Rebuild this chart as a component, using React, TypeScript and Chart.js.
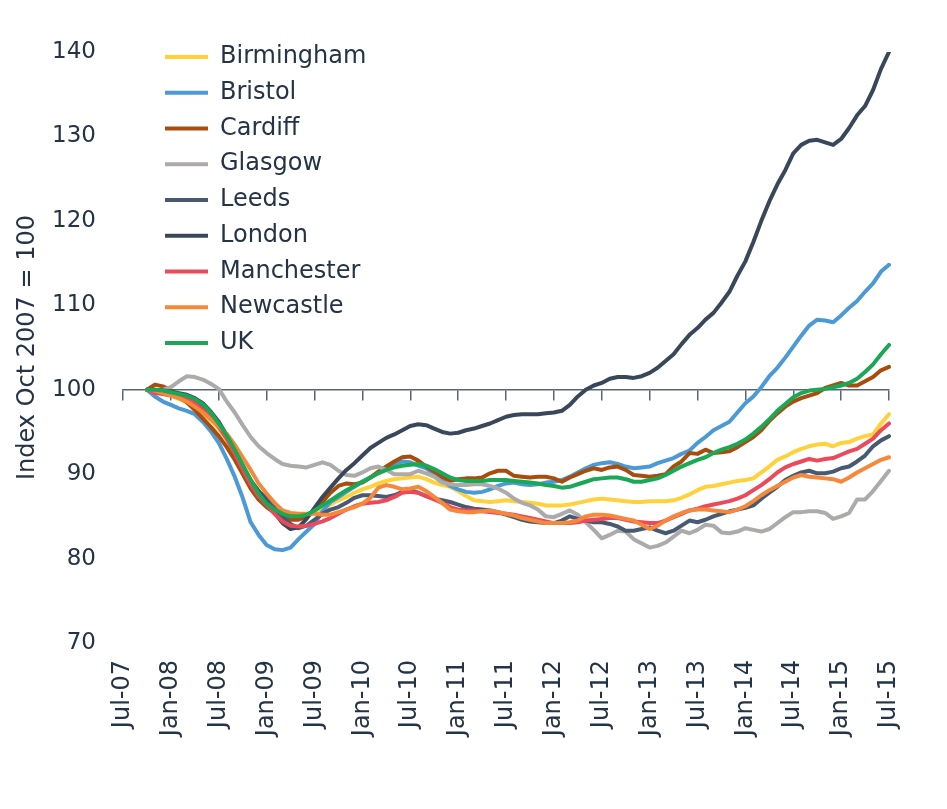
import React, { useEffect, useRef } from 'react';
import { Chart, registerables } from 'chart.js';

Chart.register(...registerables);

// Month categories: Jul-07 .. Jul-15
const MONTH_NAMES = ['Jan', 'Feb', 'Mar', 'Apr', 'May', 'Jun', 'Jul', 'Aug', 'Sep', 'Oct', 'Nov', 'Dec'];
const categories: string[] = Array.from({ length: 97 }, (_, i) => {
  const m = (6 + i) % 12;
  const y = 7 + Math.floor((6 + i) / 12);
  return `${MONTH_NAMES[m]}-${String(y).padStart(2, '0')}`;
});
// Series start in Oct-07 (index 3)
const SERIES_START = 3;

const birmingham = [
  100.0, 99.8, 99.6,
  99.3, 98.9, 98.5, 97.9, 97.2, 96.4,
  95.4, 94.0, 92.4, 90.6, 88.9, 87.6,
  86.6, 85.8, 85.1, 84.8, 84.7, 85.0,
  85.4, 85.9, 86.4, 86.9, 87.3, 87.8,
  88.2, 88.5, 88.9, 89.2, 89.4, 89.5,
  89.6, 89.7, 89.4, 89.0, 88.7, 88.5,
  88.0, 87.4, 86.9, 86.8, 86.7, 86.8,
  86.9, 86.8, 86.7, 86.6, 86.5, 86.3,
  86.3, 86.3, 86.4, 86.6, 86.8, 87.0,
  87.1, 87.0, 86.9, 86.8, 86.7, 86.7,
  86.8, 86.8, 86.8, 86.9, 87.2, 87.6,
  88.1, 88.5, 88.6, 88.8, 89.0, 89.2,
  89.3, 89.5, 90.2, 90.9, 91.7, 92.1,
  92.6, 93.0, 93.3, 93.5, 93.6, 93.3,
  93.7, 93.8, 94.2, 94.5, 94.7, 96.0,
  97.1,
];
const bristol = [
  100.0, 99.2, 98.6,
  98.2, 97.8, 97.5, 97.1, 96.2, 95.1,
  93.7, 91.8, 89.7, 87.2, 84.3, 82.8,
  81.6, 81.1, 81.0, 81.3, 82.3, 83.2,
  84.1, 85.6, 86.7, 87.3, 87.9, 88.5,
  89.1, 89.6, 90.2, 90.8, 91.2, 91.5,
  91.4, 91.0, 90.7, 90.0, 89.2, 88.6,
  88.2, 87.9, 87.8, 87.9, 88.2, 88.6,
  88.9, 89.0, 88.8, 88.7, 88.8, 89.0,
  89.1, 89.3, 89.7, 90.2, 90.7, 91.1,
  91.3, 91.4, 91.2, 90.9, 90.7, 90.8,
  90.9, 91.3, 91.6, 91.9, 92.4, 92.8,
  93.7, 94.4, 95.2, 95.7, 96.2, 97.3,
  98.4, 99.2, 100.3, 101.6, 102.6, 103.8,
  105.1, 106.4, 107.6, 108.3, 108.2, 108.0,
  108.8, 109.7, 110.5, 111.6, 112.6, 114.0,
  114.8,
];
const cardiff = [
  100.0, 100.6, 100.4,
  99.9, 99.3, 98.5, 97.6, 96.6, 95.6,
  94.5, 93.2, 91.7, 90.0, 88.3, 87.0,
  86.1, 85.4, 84.9, 84.6, 84.6, 85.0,
  85.7, 86.7, 87.8, 88.6, 88.9, 88.8,
  89.0, 89.6, 90.3, 90.9, 91.5, 92.0,
  92.1, 91.6, 90.9, 90.3, 89.7, 89.2,
  89.4, 89.5, 89.5, 89.6, 90.1, 90.4,
  90.4, 89.8, 89.7, 89.6, 89.7, 89.7,
  89.5, 89.1, 89.6, 90.0, 90.4, 90.7,
  90.5, 90.8, 90.9, 90.5, 89.9, 89.8,
  89.7, 89.8, 90.0, 90.9, 91.5, 92.5,
  92.4, 92.9, 92.5, 92.6, 92.7, 93.2,
  93.8, 94.4, 95.2, 96.3, 97.2, 98.0,
  98.6, 99.0, 99.3, 99.6, 100.2, 100.5,
  100.8, 100.5, 100.5, 101.0, 101.5, 102.3,
  102.7,
];
const glasgow = [
  100.0, 99.9, 100.0,
  100.3, 101.0, 101.6, 101.5, 101.2, 100.7,
  100.1, 98.6, 97.3, 95.8, 94.4, 93.3,
  92.5, 91.8, 91.2, 91.0, 90.9, 90.8,
  91.1, 91.4, 91.1, 90.4, 89.9, 89.8,
  90.2, 90.7, 90.9, 90.5, 90.0, 90.0,
  90.0, 90.4, 90.1, 89.7, 89.0, 88.8,
  88.7, 88.7, 88.8, 88.8, 88.6, 88.3,
  87.8, 87.1, 86.6, 86.3, 85.8, 85.0,
  84.9, 85.3, 85.7, 85.2, 84.3, 83.4,
  82.4, 82.8, 83.3, 83.2, 82.3, 81.8,
  81.3, 81.5, 81.9, 82.6, 83.3, 83.0,
  83.4, 84.0, 83.9, 83.1, 83.0, 83.2,
  83.6, 83.4, 83.2, 83.5, 84.2, 84.9,
  85.5, 85.5, 85.6, 85.6, 85.4, 84.7,
  85.0, 85.4, 87.0, 87.0, 88.0, 89.2,
  90.4,
];
const leeds = [
  100.0, 99.8, 99.6,
  99.5, 99.3, 99.0, 98.5, 97.8, 97.0,
  96.0, 94.6, 92.9, 91.0, 89.3, 88.0,
  87.1, 86.0, 84.9, 84.1, 83.6, 83.9,
  84.6, 85.3, 85.8, 86.1, 86.6, 87.2,
  87.5, 87.5, 87.4, 87.3, 87.5, 87.9,
  88.1, 87.8, 87.4, 87.1, 86.9, 86.7,
  86.4, 86.1, 85.9, 85.8, 85.7, 85.5,
  85.2, 84.9, 84.6, 84.4, 84.3, 84.2,
  84.2, 84.5, 85.0, 84.7, 84.5, 84.3,
  84.3, 84.1, 83.8, 83.3, 83.3, 83.5,
  83.7, 83.3, 83.0, 83.3, 83.9, 84.5,
  84.3, 84.6, 85.0, 85.3, 85.6, 85.8,
  86.0, 86.3, 87.1, 87.8, 88.5, 89.3,
  89.8, 90.2, 90.4, 90.1, 90.1, 90.3,
  90.7, 90.9, 91.5, 92.2, 93.3, 94.0,
  94.5,
];
const london = [
  100.0, 100.0, 99.9,
  99.8, 99.6, 99.4, 99.0, 98.4, 97.4,
  96.2, 94.6, 92.8, 90.9, 89.2, 87.9,
  86.6, 85.4, 84.2, 83.5, 83.7, 84.7,
  86.0, 87.3, 88.4, 89.5, 90.5, 91.3,
  92.2, 93.1, 93.7, 94.3, 94.7, 95.2,
  95.7, 95.9, 95.8, 95.4, 95.0, 94.8,
  94.9, 95.2, 95.4, 95.7, 96.0, 96.4,
  96.8, 97.0, 97.1, 97.1, 97.1, 97.2,
  97.3, 97.5, 98.2, 99.2, 100.0, 100.5,
  100.8, 101.3, 101.5, 101.5, 101.4, 101.6,
  102.0, 102.6, 103.4, 104.2, 105.4, 106.5,
  107.3, 108.3, 109.1, 110.3, 111.6, 113.5,
  115.2, 117.5, 120.0, 122.3, 124.3, 126.0,
  128.0, 129.0, 129.5, 129.6, 129.3, 129.0,
  129.7, 131.0, 132.5, 133.6, 135.5, 138.0,
  140.0,
];
const manchester = [
  100.0, 99.6, 99.5,
  99.3, 99.1, 98.9, 98.4, 97.6, 96.7,
  95.6, 94.2, 92.5, 90.6, 88.8, 87.4,
  86.4, 85.3, 84.4, 83.9, 83.8, 83.9,
  84.1, 84.4, 84.8, 85.3, 85.8, 86.2,
  86.5, 86.6, 86.7, 86.9, 87.3, 87.8,
  87.9, 87.8, 87.4, 87.0, 86.6, 86.1,
  85.8, 85.7, 85.7, 85.6, 85.5, 85.4,
  85.3, 85.2, 85.0, 84.8, 84.6, 84.4,
  84.2, 84.2, 84.2, 84.3, 84.5, 84.6,
  84.7, 84.8, 84.8, 84.6, 84.4, 84.3,
  84.2, 84.2, 84.5, 84.9, 85.3, 85.7,
  85.9, 86.2, 86.4, 86.6, 86.8, 87.1,
  87.5, 88.1, 88.7, 89.4, 90.2, 90.8,
  91.2, 91.5, 91.8, 91.6, 91.8, 91.9,
  92.3, 92.7, 93.0, 93.6, 94.2, 95.2,
  96.0,
];
const newcastle = [
  100.0, 99.9, 99.6,
  99.3, 99.0, 98.6, 98.0, 97.3, 96.5,
  95.7, 94.8, 93.5, 92.0, 90.5, 88.9,
  87.7, 86.6, 85.7, 85.4, 85.3, 85.3,
  85.3, 85.2, 85.2, 85.5, 85.8, 86.1,
  86.5, 87.2, 88.4, 88.7, 88.5, 88.2,
  88.3, 88.5, 88.0, 87.3, 86.6, 85.8,
  85.6, 85.5, 85.5, 85.6, 85.7, 85.5,
  85.3, 85.1, 84.8, 84.6, 84.4, 84.2,
  84.2, 84.2, 84.3, 84.5, 85.0, 85.2,
  85.2, 85.1, 84.9, 84.7, 84.5, 84.0,
  83.5, 83.9, 84.5, 85.0, 85.4, 85.7,
  85.8, 85.8, 85.7, 85.6, 85.5, 85.8,
  86.2, 86.8, 87.5, 88.1, 88.6, 89.1,
  89.6, 89.9, 89.7, 89.6, 89.5, 89.4,
  89.1, 89.6, 90.2, 90.7, 91.2, 91.7,
  92.0,
];
const uk = [
  100.0, 100.0, 99.9,
  99.7, 99.5, 99.3, 98.9, 98.3, 97.3,
  96.0, 94.6, 92.9, 91.1, 89.3, 87.7,
  86.5, 85.8, 85.3, 85.0, 85.0, 85.2,
  85.7, 86.3, 86.9, 87.5, 88.1, 88.6,
  89.1, 89.6, 90.1, 90.5, 90.8, 91.0,
  91.1, 91.2, 91.0, 90.6, 90.1, 89.6,
  89.3, 89.2, 89.2, 89.2, 89.3, 89.3,
  89.3, 89.2, 89.1, 89.0, 88.9, 88.7,
  88.6, 88.4, 88.5, 88.8, 89.1, 89.4,
  89.5, 89.6, 89.6, 89.4, 89.1, 89.1,
  89.3, 89.5, 89.9, 90.4, 90.9, 91.3,
  91.7, 92.0, 92.5, 92.9, 93.2, 93.6,
  94.1, 94.8, 95.6, 96.5, 97.5, 98.3,
  99.1, 99.6, 99.9, 100.0, 100.1, 100.3,
  100.5, 100.8, 101.3, 102.1, 103.0, 104.2,
  105.3,
];

const seriesNames = ['Birmingham', 'Bristol', 'Cardiff', 'Glasgow', 'Leeds', 'London', 'Manchester', 'Newcastle', 'UK'];
const seriesValues = [birmingham, bristol, cardiff, glasgow, leeds, london, manchester, newcastle, uk];
const seriesColors = ['#FFD23C', '#4B9AD6', '#A94D0E', '#ADAAAA', '#475A72', '#39475A', '#EC4A5B', '#F5883A', '#19A856'];

const yTicks = { min: 70, max: 140, step: 10 };
const TEXT = '#243346';
const AXIS = '#576676';
const FONT = 'DejaVu Sans, Verdana, sans-serif';

export default function App() {
  const ref = useRef<HTMLCanvasElement | null>(null);

  useEffect(() => {
    document.body.style.margin = '0';
    const canvas = ref.current;
    if (!canvas) return;

    const datasets = seriesNames.map((name, k) => ({
      label: name,
      data: [...Array(SERIES_START).fill(null), ...seriesValues[k]],
      borderColor: seriesColors[k],
      backgroundColor: seriesColors[k],
      borderWidth: 4,
      pointRadius: 0,
      pointHoverRadius: 0,
      tension: 0,
      fill: false,
      borderJoinStyle: 'round' as const,
      borderCapStyle: 'round' as const,
      order: seriesNames.length - 1 - k,
    }));

    const legendFont = 24;
    const legendPad = 11.75;

    const legendPlace = {
      id: 'legendPlace',
      afterLayout(chart: any) {
        const lg = chart.legend;
        if (!lg) return;
        const w = lg.width;
        const h = lg.height;
        lg.left = 165 - legendPad;
        lg.right = lg.left + w;
        lg.top = 57 - legendFont / 2 - legendPad;
        lg.bottom = lg.top + h;
      },
    };

    const chart = new Chart(canvas, {
      type: 'line',
      data: { labels: categories, datasets },
      plugins: [legendPlace],
      options: {
        animation: false,
        responsive: false,
        maintainAspectRatio: false,
        layout: { padding: { top: 52, right: 58, left: 0, bottom: 0 } },
        plugins: {
          tooltip: { enabled: false },
          legend: {
            position: 'chartArea',
            align: 'start',
            labels: {
              usePointStyle: true,
              pointStyle: 'line',
              pointStyleWidth: 43,
              padding: legendPad,
              color: TEXT,
              font: { family: FONT, size: legendFont },
              sort: (a: any, b: any) => a.datasetIndex - b.datasetIndex,
            },
          },
        },
        scales: {
          x: {
            type: 'category',
            offset: false,
            grid: { display: false, drawTicks: false },
            border: { display: false },
            ticks: {
              autoSkip: false,
              maxRotation: 90,
              minRotation: 90,
              padding: 17,
              color: TEXT,
              font: { family: FONT, size: 24 },
              callback: (_v: any, i: number) => (i % 6 === 0 ? categories[i] : ''),
            },
            afterFit: (s: any) => {
              s.height = 166;
            },
          },
          x2: {
            type: 'linear',
            axis: 'x',
            min: 0,
            max: categories.length - 1,
            position: { y: 100 },
            ticks: { display: false, stepSize: 6 },
            grid: { drawOnChartArea: false, drawTicks: true, tickLength: 10, color: AXIS, lineWidth: 1.5 },
            border: { display: true, color: AXIS, width: 1.5 },
          },
          y: {
            min: yTicks.min,
            max: yTicks.max,
            ticks: { stepSize: yTicks.step, padding: 27, color: TEXT, font: { family: FONT, size: 23 } },
            grid: { display: false, drawTicks: false },
            border: { display: false },
            title: {
              display: true,
              text: 'Index Oct 2007 = 100',
              color: TEXT,
              font: { family: FONT, size: 24 },
              padding: { top: 13, bottom: 0 },
            },
            afterFit: (s: any) => {
              s.width = 123;
            },
          },
        },
      } as any,
    });

    return () => chart.destroy();
  }, []);

  return (
    <div style={{ width: 947, height: 809, position: 'relative', background: '#fff' }}>
      <canvas ref={ref} width={947} height={809} style={{ width: 947, height: 809, display: 'block' }} />
    </div>
  );
}
